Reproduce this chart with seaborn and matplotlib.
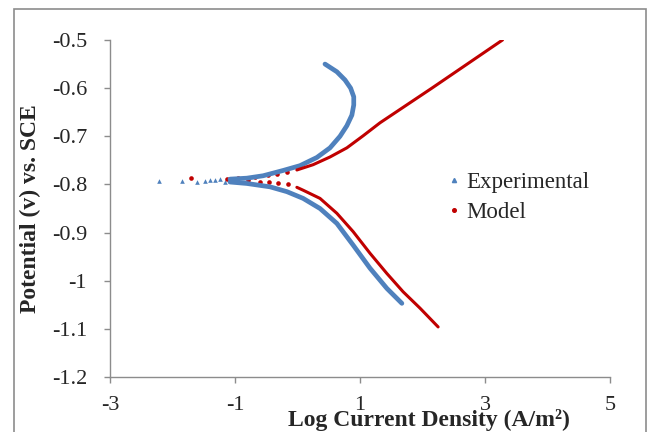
import matplotlib
matplotlib.use("Agg")
import matplotlib.pyplot as plt
from matplotlib.lines import Line2D
from matplotlib.patches import Rectangle
import seaborn as sns

# values (log i, E)
exp_sparse_x = [-2.21, -1.85, -1.61, -1.48, -1.40, -1.32, -1.24, -1.16, -1.07, -1.00]
exp_sparse_y = [-0.793, -0.792, -0.794, -0.793, -0.791, -0.790, -0.788, -0.794, -0.793, -0.791]

exp_upper_x = [-1.08, -0.81, -0.55, -0.23, 0.04, 0.31, 0.52, 0.68, 0.79, 0.87, 0.90, 0.90, 0.85, 0.76, 0.63, 0.44]
exp_upper_y = [-0.789, -0.787, -0.782, -0.771, -0.761, -0.744, -0.724, -0.700, -0.678, -0.656, -0.635,
               -0.618, -0.600, -0.583, -0.566, -0.550]

exp_lower_x = [-1.08, -0.81, -0.44, -0.17, 0.09, 0.36, 0.63, 0.89, 1.16, 1.43, 1.67]
exp_lower_y = [-0.795, -0.798, -0.805, -0.815, -0.829, -0.850, -0.881, -0.926, -0.974, -1.016, -1.047]

model_sparse_x = [-1.71, -1.13, -0.95, -0.79, -0.68, -0.60, -0.48, -0.45, -0.33, -0.31, -0.17, -0.15]
model_sparse_y = [-0.787, -0.789, -0.786, -0.791, -0.784, -0.794, -0.780, -0.794, -0.779, -0.798, -0.775, -0.800]

model_upper_x = [-0.01, 0.25, 0.52, 0.79, 1.05, 1.32, 2.15, 3.28]
model_upper_y = [-0.770, -0.759, -0.743, -0.724, -0.699, -0.672, -0.600, -0.500]

model_lower_x = [-0.01, 0.09, 0.36, 0.63, 0.89, 1.16, 1.43, 1.69, 1.96, 2.25]
model_lower_y = [-0.806, -0.812, -0.829, -0.860, -0.898, -0.943, -0.985, -1.023, -1.057, -1.096]

x_ticks = [-3, -1, 1, 3, 5]
y_ticks = [-0.5, -0.6, -0.7, -0.8, -0.9, -1.0, -1.1, -1.2]
y_tick_labels = ["-0.5", "-0.6", "-0.7", "-0.8", "-0.9", "-1", "-1.1", "-1.2"]

blue = "#4F81BD"
red = "#C00000"
grey = "#8C8C8C"

sns.set_style("white")
plt.rcParams["font.family"] = ["Liberation Serif", "DejaVu Serif"]
plt.rcParams["lines.solid_joinstyle"] = "round"
plt.rcParams["lines.solid_capstyle"] = "round"

fig = plt.figure(figsize=(6.48, 4.32), dpi=100)
ax = fig.add_axes([110 / 648, 1 - 377 / 432, 500 / 648, 337 / 432])

# experimental: dense branches drawn as thick line, sparse points as triangles
sns.lineplot(x=exp_upper_x, y=exp_upper_y, sort=False, estimator=None, color=blue, lw=3.4, ax=ax)
sns.lineplot(x=exp_lower_x, y=exp_lower_y, sort=False, estimator=None, color=blue, lw=3.4, ax=ax)
sns.scatterplot(x=exp_sparse_x, y=exp_sparse_y, marker="^", color=blue, s=11, linewidth=0, ax=ax)

# model
sns.lineplot(x=model_upper_x, y=model_upper_y, sort=False, estimator=None, color=red, lw=2.2, ax=ax)
sns.lineplot(x=model_lower_x, y=model_lower_y, sort=False, estimator=None, color=red, lw=2.2, ax=ax)
sns.scatterplot(x=model_sparse_x, y=model_sparse_y, marker="o", color=red, s=11, linewidth=0, ax=ax)

ax.set_xlim(-3, 5)
ax.set_ylim(-1.2, -0.5)
ax.set_xticks(x_ticks)
ax.set_xticklabels([str(t) for t in x_ticks])
ax.set_yticks(y_ticks)
ax.set_yticklabels(y_tick_labels)
ax.tick_params(axis="both", direction="out", length=4.5, width=1, color=grey, labelsize=16)
ax.tick_params(axis="x", pad=9)
ax.tick_params(axis="y", pad=12)
ax.xaxis.set_ticks_position("bottom")
ax.yaxis.set_ticks_position("left")

sns.despine(ax=ax)
for side in ["left", "bottom"]:
    ax.spines[side].set_color(grey)
    ax.spines[side].set_linewidth(1)

ax.set_xlabel("Log Current Density (A/m²)", fontsize=17, fontweight="bold")
ax.xaxis.label.set_va("center")
ax.xaxis.set_label_coords(0.637, -0.128)
ax.set_ylabel("Potential (v) vs. SCE", fontsize=17, fontweight="bold")
ax.yaxis.label.set_va("center")
ax.yaxis.set_label_coords(-0.16, 0.5)

handles = [
    Line2D([], [], marker="^", color=blue, linestyle="", markersize=3),
    Line2D([], [], marker="o", color=red, linestyle="", markersize=2.6),
]
ax.legend(handles, ["Experimental", "Model"], loc="center left", bbox_to_anchor=(0.632, 0.532),
          frameon=False, fontsize=16.5, handlelength=0.6, handletextpad=0.25, labelspacing=0.4)

# outer chart frame (bottom edge falls outside the picture)
fig.patches.append(Rectangle((14 / 648, -0.05), (646 - 14) / 648, 1.05 - 9 / 432,
                             transform=fig.transFigure, fill=False, edgecolor=grey, lw=1.2))

fig.savefig("out.png", dpi=100, facecolor="white")
